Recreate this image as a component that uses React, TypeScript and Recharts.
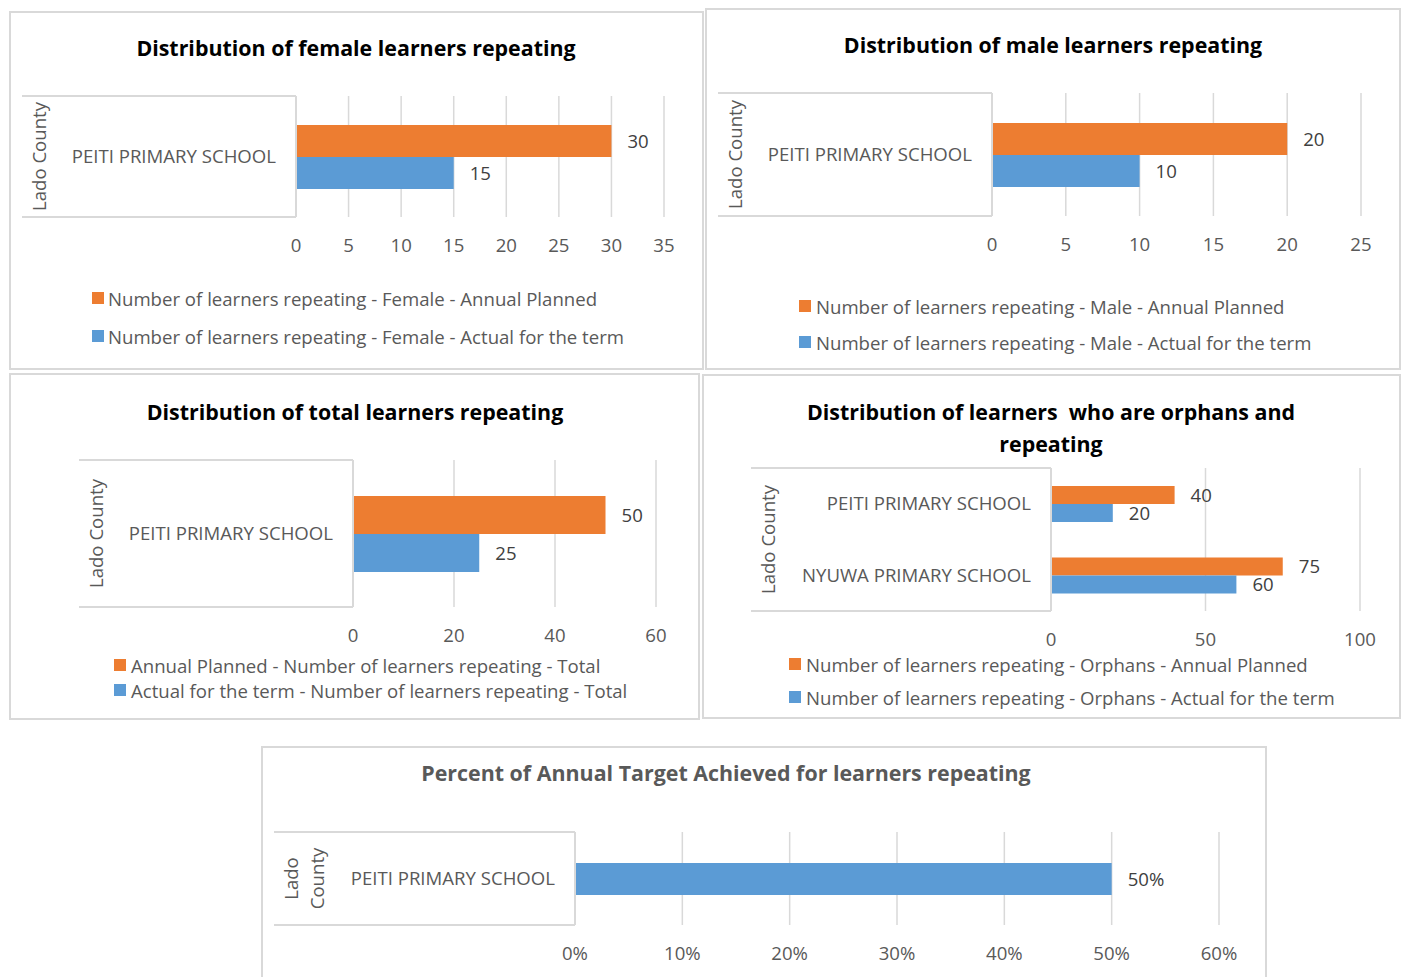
import { Bar, BarChart, CartesianGrid, LabelList, XAxis, YAxis } from "recharts";

const ORANGE = "#ed7d31";
const BLUE = "#5b9bd5";
const GRID = "#d9d9d9";
const TEXT = "#595959";
const FONT = "'Open Sans', sans-serif";
const FS = 18.6;

// valeurs
const femaleSchools = ["PEITI PRIMARY SCHOOL"];
const femalePlanned = [30];
const femaleActual = [15];
const femaleTicks = [0, 5, 10, 15, 20, 25, 30, 35];

const maleSchools = ["PEITI PRIMARY SCHOOL"];
const malePlanned = [20];
const maleActual = [10];
const maleTicks = [0, 5, 10, 15, 20, 25];

const totalSchools = ["PEITI PRIMARY SCHOOL"];
const totalPlanned = [50];
const totalActual = [25];
const totalTicks = [0, 20, 40, 60];

const orphanSchools = ["PEITI PRIMARY SCHOOL", "NYUWA PRIMARY SCHOOL"];
const orphanPlanned = [40, 75];
const orphanActual = [20, 60];
const orphanTicks = [0, 50, 100];

const percentSchools = ["PEITI PRIMARY SCHOOL"];
const percentAchieved = [0.5];
const percentTicks = [0, 0.1, 0.2, 0.3, 0.4, 0.5, 0.6];

type Series = { key: string; name: string; color: string; values: number[] };

type Layout = {
  frame: { x: number; y: number; w: number; h: number };
  plot: { boxLeft: number; left: number; right: number; top: number; bottom: number };
  titleX: number;
  titleY: number;
  legend?: { square: number; text: number; rows: number[] };
};

type PanelProps = {
  layout: Layout;
  title: string[];
  titleColor: string;
  schools: string[];
  series: Series[];
  ticks: number[];
  barSize: number;
  county: string[];
  percent?: boolean;
};

const pct = (v: number) => `${Math.round(v * 100)}%`;

const CountyBox = ({ viewBox, lines }: { viewBox: any; lines: string[] }) => {
  if (!viewBox) return null;
  const { x, y, width, height } = viewBox;
  const cy = y + height / 2;
  return (
    <g>
      <line x1={x} x2={x + width} y1={y} y2={y} stroke={GRID} strokeWidth={2} />
      <line x1={x} x2={x + width} y1={y + height} y2={y + height} stroke={GRID} strokeWidth={2} />
      {lines.map((t, i) => {
        const lx = x + 16 + i * 26;
        return (
          <text
            key={t}
            x={lx}
            y={cy}
            transform={`rotate(-90 ${lx} ${cy})`}
            textAnchor="middle"
            dominantBaseline="central"
            fontSize={FS}
            fill={TEXT}
          >
            {t}
          </text>
        );
      })}
    </g>
  );
};

const Panel = ({ layout, title, titleColor, schools, series, ticks, barSize, county, percent }: PanelProps) => {
  const { frame, plot } = layout;
  const data = schools.map((school, i) => {
    const row: Record<string, string | number> = { school };
    series.forEach((s) => (row[s.key] = s.values[i]));
    return row;
  });
  const chartHeight = plot.bottom - frame.y + 50;

  return (
    <div
      style={{
        position: "absolute",
        left: frame.x,
        top: frame.y,
        width: frame.w,
        height: frame.h,
        boxShadow: `inset 0 0 0 2px ${GRID}`,
        background: "#fff",
      }}
    >
      {title.map((line, i) => (
        <div
          key={i}
          style={{
            position: "absolute",
            left: layout.titleX - frame.x - 400,
            width: 800,
            top: layout.titleY - frame.y - 16 + i * 32,
            height: 32,
            lineHeight: "32px",
            textAlign: "center",
            fontWeight: 700,
            fontSize: 21.4,
            color: titleColor,
            whiteSpace: "pre",
          }}
        >
          {line}
        </div>
      ))}
      <div style={{ position: "absolute", left: 0, top: 0 }}>
        <BarChart
          width={frame.w}
          height={chartHeight}
          data={data}
          layout="vertical"
          barGap={0}
          margin={{
            top: plot.top - frame.y,
            right: frame.x + frame.w - plot.right,
            bottom: 0,
            left: plot.boxLeft - frame.x,
          }}
        >
          <CartesianGrid horizontal={false} stroke={GRID} strokeWidth={1.5} />
          <XAxis
            type="number"
            domain={[ticks[0], ticks[ticks.length - 1]]}
            ticks={ticks}
            interval={0}
            axisLine={false}
            tickLine={false}
            tickMargin={16}
            height={50}
            tick={{ fontSize: FS, fill: TEXT }}
            tickFormatter={percent ? pct : undefined}
          />
          <YAxis
            type="category"
            dataKey="school"
            width={plot.left - plot.boxLeft}
            axisLine={{ stroke: GRID, strokeWidth: 2 }}
            tickLine={false}
            tickMargin={14}
            tick={{ fontSize: FS, fill: TEXT }}
            label={{ content: (p: any) => <CountyBox viewBox={p.viewBox} lines={county} /> }}
          />
          {series.map((s) => (
            <Bar key={s.key} dataKey={s.key} name={s.name} fill={s.color} barSize={barSize} isAnimationActive={false}>
              <LabelList
                dataKey={s.key}
                position="right"
                offset={16}
                fill="#404040"
                fontSize={FS}
                formatter={percent ? (v: any) => pct(Number(v)) : undefined}
              />
            </Bar>
          ))}
        </BarChart>
      </div>
      {layout.legend &&
        series.map((s, i) => (
          <div
            key={s.key}
            style={{
              position: "absolute",
              left: layout.legend!.square - frame.x,
              top: layout.legend!.rows[i] - frame.y - 12,
              height: 24,
              display: "flex",
              alignItems: "center",
              whiteSpace: "nowrap",
              fontSize: FS,
              color: TEXT,
            }}
          >
            <span style={{ width: 12, height: 12, background: s.color, display: "inline-block" }} />
            <span style={{ marginLeft: layout.legend!.text - layout.legend!.square - 12 }}>{s.name}</span>
          </div>
        ))}
    </div>
  );
};

export default function App() {
  return (
    <div
      style={{
        position: "absolute",
        left: 0,
        top: 0,
        width: 1403,
        height: 977,
        overflow: "hidden",
        background: "#fff",
        fontFamily: FONT,
      }}
    >
      <Panel
        layout={{
          frame: { x: 9, y: 11, w: 695, h: 359 },
          plot: { boxLeft: 22, left: 296, right: 664, top: 96, bottom: 217 },
          titleX: 356,
          titleY: 48,
          legend: { square: 92, text: 108, rows: [298, 336] },
        }}
        title={["Distribution of female learners repeating"]}
        titleColor="#000"
        schools={femaleSchools}
        series={[
          { key: "planned", name: "Number of learners repeating - Female - Annual Planned", color: ORANGE, values: femalePlanned },
          { key: "actual", name: "Number of learners repeating - Female - Actual for the term", color: BLUE, values: femaleActual },
        ]}
        ticks={femaleTicks}
        barSize={32}
        county={["Lado County"]}
      />
      <Panel
        layout={{
          frame: { x: 705, y: 8, w: 696, h: 362 },
          plot: { boxLeft: 718, left: 992, right: 1361, top: 93, bottom: 216 },
          titleX: 1053,
          titleY: 45,
          legend: { square: 799, text: 816, rows: [306, 342] },
        }}
        title={["Distribution of male learners repeating"]}
        titleColor="#000"
        schools={maleSchools}
        series={[
          { key: "planned", name: "Number of learners repeating - Male - Annual Planned", color: ORANGE, values: malePlanned },
          { key: "actual", name: "Number of learners repeating - Male - Actual for the term", color: BLUE, values: maleActual },
        ]}
        ticks={maleTicks}
        barSize={32}
        county={["Lado County"]}
      />
      <Panel
        layout={{
          frame: { x: 9, y: 373, w: 691, h: 347 },
          plot: { boxLeft: 79, left: 353, right: 656, top: 460, bottom: 607 },
          titleX: 355,
          titleY: 412,
          legend: { square: 114, text: 131, rows: [665, 690] },
        }}
        title={["Distribution of total learners repeating"]}
        titleColor="#000"
        schools={totalSchools}
        series={[
          { key: "planned", name: "Annual Planned - Number of learners repeating - Total", color: ORANGE, values: totalPlanned },
          { key: "actual", name: "Actual for the term - Number of learners repeating - Total", color: BLUE, values: totalActual },
        ]}
        ticks={totalTicks}
        barSize={38}
        county={["Lado County"]}
      />
      <Panel
        layout={{
          frame: { x: 702, y: 374, w: 699, h: 345 },
          plot: { boxLeft: 751, left: 1051, right: 1360, top: 468, bottom: 611 },
          titleX: 1051,
          titleY: 412,
          legend: { square: 789, text: 806, rows: [664, 697] },
        }}
        title={["Distribution of learners  who are orphans and", "repeating"]}
        titleColor="#000"
        schools={orphanSchools}
        series={[
          { key: "planned", name: "Number of learners repeating - Orphans - Annual Planned", color: ORANGE, values: orphanPlanned },
          { key: "actual", name: "Number of learners repeating - Orphans - Actual for the term", color: BLUE, values: orphanActual },
        ]}
        ticks={orphanTicks}
        barSize={18}
        county={["Lado County"]}
      />
      <Panel
        layout={{
          frame: { x: 261, y: 746, w: 1006, h: 250 },
          plot: { boxLeft: 274, left: 575, right: 1219, top: 832, bottom: 925 },
          titleX: 726,
          titleY: 773,
        }}
        title={["Percent of Annual Target Achieved for learners repeating"]}
        titleColor={TEXT}
        schools={percentSchools}
        series={[{ key: "achieved", name: "Percent of Annual Target Achieved", color: BLUE, values: percentAchieved }]}
        ticks={percentTicks}
        barSize={32}
        county={["Lado", "County"]}
        percent
      />
    </div>
  );
}
